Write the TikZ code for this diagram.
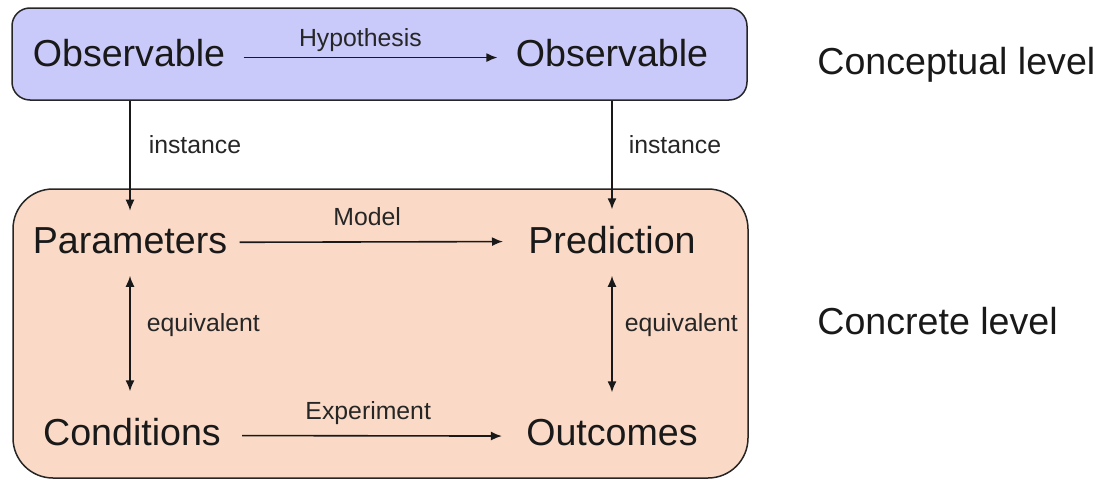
\documentclass[tikz,border=0pt]{standalone}
\usepackage{fontspec}
\setmainfont{Liberation Sans}
\usepackage{xcolor}
\usetikzlibrary{positioning,arrows.meta}

\definecolor{conceptblue}{RGB}{202,202,250}
\definecolor{concretepeach}{RGB}{250,218,199}

\begin{document}
\begin{tikzpicture}[x=0.5pt,y=-0.5pt]
\tikzset{>={Latex[length=5.5pt,width=4.5pt]}}

\tikzstyle{level} = [rectangle, draw=black!85, line width=0.75pt]
\tikzstyle{term}  = [font=\fontsize{18.8}{22}\selectfont, text=black!90,
                     inner xsep=9pt, inner ysep=8pt, anchor=base]
\tikzstyle{rel}   = [font=\fontsize{12.4}{15}\selectfont, text=black!85,
                     inner sep=2pt]
\tikzstyle{conn}  = [line width=0.8pt, black!90]

\useasboundingbox (0,0) rectangle (1100,482);

% the two levels
\node[level,rounded corners=9pt,fill=conceptblue,
      minimum width=367.5pt,minimum height=46pt]    (concept)  at (379.5,54)  {};
\node[level,rounded corners=20pt,fill=concretepeach,
      minimum width=367.5pt,minimum height=144.5pt] (concrete) at (380.5,333.5) {};

\node[term] (OA) at (129,67)  {Observable};
\node[term] (OB) at (612,67)  {Observable};
\node[term] (PA) at (130,253) {Parameters};
\node[term] (PB) at (612,253) {Prediction};
\node[term] (CA) at (132,445) {Conditions};
\node[term] (CB) at (612,445) {Outcomes};

\node[term,anchor=base west,inner sep=0pt] (LC) at (817,75)  {Conceptual level};
\node[term,anchor=base west,inner sep=0pt] (LK) at (817,334) {Concrete level};

\draw[conn,->] ([yshift=-2pt]OA.east) -- node[rel,pos=0.46,above=0.4pt] {Hypothesis} ([yshift=-2pt]OB.west);
\draw[conn,->,shorten <=-3pt,shorten >=3.5pt] ([yshift=-1pt]PA.east) -- node[rel,pos=0.46,above=5.5pt] {Model} ([yshift=-1pt]PB.west);
\draw[conn,->,shorten <=1.5pt,shorten >=3pt] ([yshift=-2pt]CA.east) -- node[rel,pos=0.48,above=3.4pt] {Experiment} ([yshift=-2pt]CB.west);

\draw[conn,->] (PA |- concept.south) -- node[rel,pos=0.4,right=7pt] {instance} (PA.north);
\draw[conn,->] (PB |- concept.south) -- node[rel,pos=0.4,right=6pt] {instance} (PB.north);

\draw[conn,<->,shorten <=3pt,shorten >=5pt] (PA.south) -- node[rel,pos=0.42,right=6pt] {equivalent} (PA |- CA.north);
\draw[conn,<->,shorten <=3pt,shorten >=5pt] (PB.south) -- node[rel,pos=0.42,right=4pt] {equivalent} (PB |- CB.north);

\end{tikzpicture}
\end{document}
